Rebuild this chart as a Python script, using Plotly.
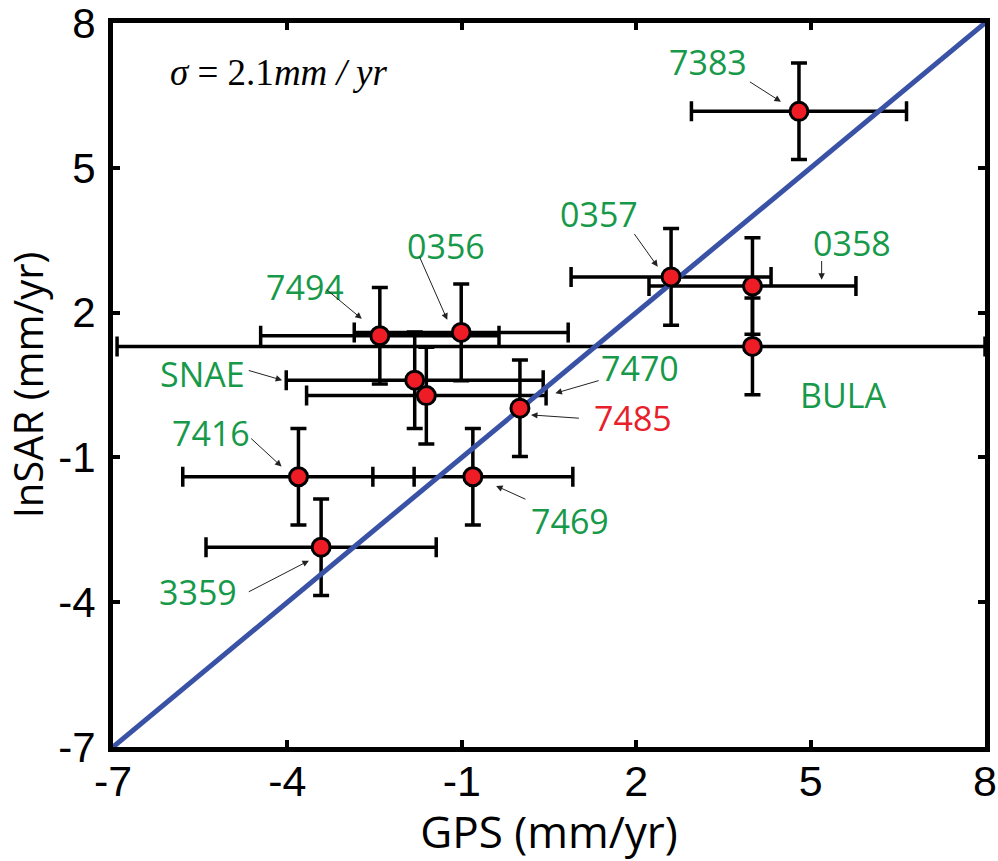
import plotly.graph_objects as go

# GPS vs InSAR velocities for each station (mm/yr)
stations = ["7383", "0357", "0358", "BULA", "0356", "7494", "SNAE", "7470", "7485", "7416", "7469", "3359"]
gps = [4.80, 2.60, 4.00, 4.00, -1.01, -2.41, -1.81, -1.61, 0.00, -3.81, -0.81, -3.42]
insar = [6.17, 2.74, 2.55, 1.30, 1.59, 1.52, 0.60, 0.28, 0.02, -1.40, -1.40, -2.86]
gps_err_plus = [1.85, 1.72, 1.78, 4.00, 1.84, 2.05, 2.21, 2.06, 0.0, 1.99, 1.72, 1.98]
gps_err_minus = [1.85, 1.72, 1.78, 10.93, 1.84, 2.05, 2.21, 2.06, 0.0, 1.99, 1.72, 1.98]
insar_err = [1.0, 1.0, 1.0, 1.0, 1.0, 1.0, 1.0, 1.0, 1.0, 1.0, 1.0, 1.0]

tick_vals = [-7, -4, -1, 2, 5, 8]
one_to_one = [-7, 8]

# label placement: text centre, arrow tail, arrow tip (data units)
label_text_pos = {
    "7383": (3.23, 7.19), "0357": (1.36, 4.04), "0358": (5.71, 3.44),
    "7470": (2.06, 0.85), "BULA": (5.56, 0.29), "7485": (1.95, -0.18),
    "7469": (0.86, -2.32), "SNAE": (-5.46, 0.73), "7416": (-5.32, -0.49),
    "3359": (-5.53, -3.78), "7494": (-3.70, 2.54), "0356": (-1.28, 3.37),
}
label_arrows = {
    "7383": ((3.93, 6.80), (4.49, 6.37)),
    "0357": ((1.95, 3.66), (2.37, 2.95)),
    "0358": ((5.19, 3.10), (5.19, 2.68)),
    "7470": ((1.38, 0.60), (0.61, 0.33)),
    "7485": ((1.04, -0.19), (0.19, -0.12)),
    "7469": ((0.12, -1.88), (-0.41, -1.59)),
    "SNAE": ((-4.69, 0.81), (-4.09, 0.60)),
    "7416": ((-4.65, -0.58), (-4.10, -1.19)),
    "3359": ((-4.69, -3.80), (-3.63, -3.14)),
    "7494": ((-3.35, 2.50), (-2.72, 1.87)),
    "0356": ((-1.74, 3.19), (-1.25, 1.85)),
}

GREEN = "#17994a"
RED_TEXT = "#e8202a"
label_font = "Open Sans, Noto Sans, sans-serif"

fig = go.Figure()

# error bars (drawn first so the 1:1 line and markers sit on top)
fig.add_trace(go.Scatter(
    x=gps, y=insar, mode="markers",
    marker=dict(size=1, color="rgba(0,0,0,0)"),
    error_x=dict(type="data", symmetric=False, array=gps_err_plus,
                 arrayminus=gps_err_minus, color="black", thickness=3.5, width=10),
    error_y=dict(type="data", array=insar_err, color="black", thickness=3.5, width=8),
    hoverinfo="skip", showlegend=False,
))

# 1:1 reference line
fig.add_trace(go.Scatter(
    x=one_to_one, y=one_to_one, mode="lines",
    line=dict(color="#3a52a6", width=5), showlegend=False,
))

# station markers
fig.add_trace(go.Scatter(
    x=gps, y=insar, mode="markers", text=stations,
    marker=dict(size=18, color="#ee1c25", line=dict(color="black", width=3)),
    showlegend=False,
))

annotations = []
for name, (tx, ty) in label_text_pos.items():
    annotations.append(dict(
        x=tx, y=ty, xref="x", yref="y", text=name, showarrow=False,
        font=dict(family=label_font, size=34, color=RED_TEXT if name == "7485" else GREEN),
        xanchor="center", yanchor="middle",
    ))
for name, ((ax_, ay_), (hx, hy)) in label_arrows.items():
    annotations.append(dict(
        x=hx, y=hy, ax=ax_, ay=ay_, xref="x", yref="y", axref="x", ayref="y",
        text="", showarrow=True, arrowhead=2, arrowsize=1.3, arrowwidth=1,
        arrowcolor="#222222",
    ))

annotations.append(dict(
    x=-6.05, y=6.98, xref="x", yref="y", showarrow=False,
    text="<i>σ</i> = 2.1<i>mm / yr</i>", xanchor="left", yanchor="middle",
    font=dict(family="Liberation Serif, Times New Roman, serif", size=37, color="black"),
))

axis_common = dict(
    range=[-7, 8], tickvals=tick_vals, ticktext=[str(v) for v in tick_vals],
    showgrid=False, zeroline=False, showline=True, linecolor="black", linewidth=5,
    mirror="ticks", ticks="inside", ticklen=7, tickwidth=4, tickcolor="black",
    automargin=False, ticklabeloverflow="allow",
)

fig.update_layout(
    width=998, height=861,
    margin=dict(l=113, r=13, t=23, b=114),
    plot_bgcolor="white", paper_bgcolor="white",
    xaxis=dict(
        **axis_common,
        tickfont=dict(family="Liberation Sans Narrow, Liberation Sans, Arial, sans-serif", size=43, color="black"),
        ticklabelstandoff=-8,
        title=dict(text="GPS (mm/yr)", standoff=12,
                   font=dict(family="Open Sans, Noto Sans, sans-serif", size=44, color="black")),
    ),
    yaxis=dict(
        **axis_common,
        tickfont=dict(family="Liberation Sans, Arial, sans-serif", size=42, color="black"),
        ticklabelstandoff=4,
        title=dict(text="InSAR (mm/yr)", standoff=10,
                   font=dict(family="Open Sans, Noto Sans, sans-serif", size=40, color="black")),
    ),
    annotations=annotations,
)

fig.write_html("out.html")
